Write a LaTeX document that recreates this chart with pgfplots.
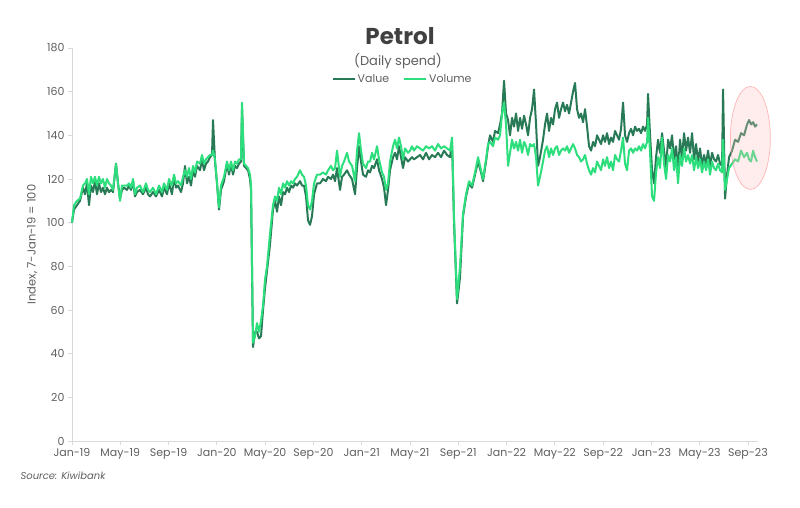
\documentclass[border=0pt]{standalone}
\usepackage{pgfplots}
\pgfplotsset{compat=1.18}
\usepackage{pgfplotstable}
\usepackage{fontspec}
\setmainfont{Poppins}
\definecolor{valc}{RGB}{40,122,86}
\definecolor{volc}{RGB}{44,222,124}
\definecolor{axc}{RGB}{217,217,217}
\definecolor{txc}{RGB}{95,95,95}
\definecolor{ttc}{RGB}{64,64,64}
% p = horizontal chart position (72 = Jan-19, 12.07 per month), D = Value, G = Volume
\pgfplotstableread{
p D G
72 100 100
74 106 108
77 108 110
80 110 111
83 116 117
85 113 118
87 118 120
89 108 113
91 117 121
93 114 118
95 119 121
97 113 117
99 118 121
101 114 118
103 116 120
105 113 116
107 116 120
109 114 118
111 115 117
113 114 115
116 127 127
118 118 118
120 111 110
122 115 117
124 116 117
127 115 117
129 117 118
131 115 116
133 119 120
135 112 113
137 114 116
140 115 117
143 113 114
146 116 118
148 113 115
150 112 114
153 114 116
156 112 113
159 115 117
162 112 114
164 116 118
167 113 115
169 118 120
172 113 117
174 121 122
176 116 118
178 117 119
181 114 117
183 118 121
185 126 124
187 118 121
189 121 125
191 117 120
193 124 126
195 121 123
197 126 128
200 124 127
202 129 131
204 124 127
206 127 129
208 128 130
210 130 131
212 131 131
213 147 133
215 128 129
217 118 118
219 106 107
221 115 117
224 119 121
227 127 128
229 122 124
231 127 128
233 122 124
235 126 128
237 125 127
239 127 129
241 128 129
242 152 155
244 126 127
246 125 126
248 124 125
250 120 122
251 115 117
253 43 45
255 50 48
257 50 54
259 47 50
261 48 55
263 60 62
265 70 74
267 78 80
270 90 95
273 106 108
275 110 112
277 105 110
279 112 116
281 108 113
283 114 118
285 113 116
287 116 119
289 114 117
291 117 119
293 116 118
295 118 120
297 117 121
300 119 124
302 117 122
304 117 121
306 112 117
308 101 108
310 99 106
312 103 110
314 113 118
317 118 122
320 118 122
323 120 123
326 119 122
328 121 124
331 120 126
333 122 124
335 119 125
337 125 133
340 115 121
342 121 126
344 122 128
347 124 132
349 122 128
352 120 126
355 113 119
357 125 133
359 135 141
361 128 133
363 122 127
366 121 125
368 124 128
370 123 128
372 126 132
374 125 129
377 129 135
379 124 129
382 120 123
384 116 121
386 108 115
388 115 118
390 124 128
393 130 135
395 132 138
397 129 134
399 135 139
401 130 135
403 125 129
405 130 134
408 128 132
410 129 133
412 130 135
414 129 133
417 130 135
420 131 134
423 129 133
426 132 135
429 129 134
432 131 135
435 130 133
438 132 136
441 130 134
444 133 135
447 131 134
450 130 133
452 137 139
454 100 102
457 63 65
460 75 80
463 103 104
466 112 113
469 118 119
472 116 117
475 122 123
478 128 130
481 123 124
483 119 120
486 128 129
488 135 136
490 140 137
493 137 135
495 142 139
498 141 138
500 145 140
502 150 150
504 165 155
506 150 145
508 147 126
510 140 132
512 148 138
514 144 134
516 150 137
518 142 133
520 148 138
522 143 132
524 149 137
526 145 135
528 140 131
530 148 136
532 152 135
534 161 136
536 145 130
538 126 117
540 130 121
543 138 128
545 145 133
547 150 135
549 142 130
551 148 134
553 145 131
555 152 134
557 155 135
559 148 131
561 152 133
563 155 134
565 151 133
567 154 135
569 150 132
571 155 134
573 160 136
575 164 134
577 152 131
579 148 130
581 150 128
583 146 129
585 152 131
587 144 127
589 135 124
591 133 122
593 137 125
595 135 123
597 140 128
599 138 126
601 136 124
603 140 129
605 137 126
607 141 130
609 136 125
611 139 128
613 137 124
615 142 131
617 140 129
619 138 128
621 143 133
623 155 139
625 140 127
627 137 124
629 141 133
631 143 134
633 140 132
635 144 134
637 142 133
639 143 135
641 141 133
643 144 136
645 142 134
647 145 137
648 159 148
650 140 132
652 124 112
654 118 110
656 130 123
658 138 130
660 132 125
662 141 139
664 133 127
666 125 120
668 138 131
670 134 128
672 140 134
674 129 124
676 135 130
678 124 118
680 138 131
682 130 126
684 141 134
686 133 128
688 139 131
690 132 127
692 141 131
694 129 124
696 136 130
698 128 125
700 134 129
702 126 123
704 131 128
706 127 124
708 133 129
710 126 122
712 132 128
714 129 125
716 128 124
718 131 127
720 127 124
722 126 123
723 161 138
725 111 115
727 122 120
729 130 125
732 133 127
735 138 129
738 137 128
741 141 133
744 140 130
747 145 132
749 147 129
751 145 128
753 146 133
755 144 130
757 145 128
}\petrol
\begin{document}
\begin{tikzpicture}
\useasboundingbox (0pt,0pt) rectangle (800pt,508pt);
\begin{axis}[
  at={(72pt,67pt)}, anchor=south west,
  scale only axis, width=686pt, height=393pt,
  xmin=0, xmax=56.83, ymin=0, ymax=180,
  axis lines=left,
  axis line style={-, draw=axc, line width=0.8pt},
  tick style={draw=axc, line width=0.8pt},
  tick align=outside, major tick length=4pt,
  xtick={0,4,...,56},
  xticklabels={Jan-19,May-19,Sep-19,Jan-20,May-20,Sep-20,Jan-21,May-21,Sep-21,Jan-22,May-22,Sep-22,Jan-23,May-23,Sep-23},
  ytick={0,20,...,180},
  /pgf/number format/assume math mode=true,
  ticklabel style={font=\fontsize{11}{13}\selectfont, text=txc},
  ylabel={Index, 7-Jan-19 = 100},
  ylabel style={at={(axis description cs:-0.058,0.5)}, anchor=center, font=\fontsize{11.5}{13}\selectfont, text=txc},
  clip=false,
  legend columns=2,
  legend style={at={(axis description cs:0.482,0.921)}, anchor=center, draw=none, fill=none,
    font=\fontsize{11}{13}\selectfont, text=txc,
    /tikz/every even column/.append style={column sep=12pt}},
  legend image code/.code={\draw[#1] (0pt,0pt) -- (22pt,0pt);},
]
\addplot[valc, line width=2pt, line join=round] table[x expr=(\thisrow{p}-72)/12.07, y=D] {\petrol};
\addlegendentry{Value}
\addplot[volc, line width=2pt, line join=round] table[x expr=(\thisrow{p}-72)/12.07, y=G] {\petrol};
\addlegendentry{Volume}
\draw[draw=red!45!white, draw opacity=0.6, line width=0.7pt, fill=red!25!white, fill opacity=0.3]
  (axis cs:56.2,138.8) ellipse [x radius=20pt, y radius=51.5pt];
\end{axis}
\node[font=\fontsize{23}{26}\selectfont\bfseries, text=ttc] at (400pt,472pt) {Petrol};
\node[font=\fontsize{13}{15}\selectfont, text=txc] at (398pt,447pt) {(Daily spend)};
\node[font=\fontsize{10}{12}\selectfont\itshape, text=txc, anchor=west] at (17pt,32pt) {Source: Kiwibank};
\end{tikzpicture}
\end{document}
